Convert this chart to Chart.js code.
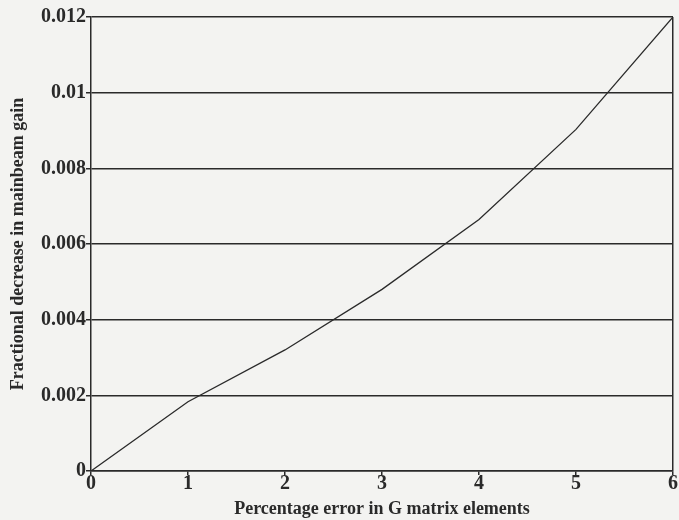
<!DOCTYPE html>
<html lang="en">
<head>
    <meta charset="UTF-8">
    <title>Gain decrease vs G matrix error</title>
    <script src="https://cdn.jsdelivr.net/npm/chart.js@4.4.0/dist/chart.umd.min.js"></script>
    <style>
        body { margin: 0; background: #f3f3f1; }
        #wrap { width: 679px; height: 520px; }
    </style>
</head>
<body>
    <div id="wrap"><canvas id="gainChart" width="679" height="520"></canvas></div>

    <script>
        // values
        const errorPct = [0, 1, 2, 3, 4, 5, 6];
        const gainDecrease = [0, 0.00183, 0.0032, 0.0048, 0.00665, 0.00903, 0.012];
        const yTicks = [0, 0.002, 0.004, 0.006, 0.008, 0.01, 0.012];

        const serif = "'Liberation Serif', 'Times New Roman', serif";
        const ink = '#2a2a2a';

        const ctx = document.getElementById('gainChart').getContext('2d');
        new Chart(ctx, {
            type: 'line',
            data: {
                datasets: [{
                    data: errorPct.map((x, i) => ({ x: x, y: gainDecrease[i] })),
                    borderColor: ink,
                    borderWidth: 1.3,
                    pointRadius: 0,
                    tension: 0,
                    fill: false
                }]
            },
            options: {
                responsive: false,
                animation: false,
                layout: { padding: { top: 17, right: 6, left: 0, bottom: 0 } },
                plugins: {
                    legend: { display: false },
                    tooltip: { enabled: false }
                },
                scales: {
                    x: {
                        type: 'linear',
                        min: 0,
                        max: 6,
                        afterFit: s => { s.height = 49; },
                        afterBuildTicks: s => { s.ticks = errorPct.map(v => ({ value: v })); },
                        border: { display: true, color: ink, width: 1.5 },
                        grid: {
                            color: c => c.tick && c.tick.value === 6 ? ink : 'rgba(0,0,0,0)',
                            tickColor: ink,
                            lineWidth: 1.5,
                            tickLength: 4
                        },
                        ticks: {
                            color: ink,
                            font: { family: serif, size: 20, weight: 'bold' },
                            padding: -3
                        },
                        title: {
                            display: true,
                            text: 'Percentage error in G matrix elements',
                            color: ink,
                            font: { family: serif, size: 18, weight: 'bold' },
                            padding: { top: 0, bottom: 0 }
                        }
                    },
                    y: {
                        min: 0,
                        max: 0.012,
                        afterFit: s => { s.width = 91; },
                        afterBuildTicks: s => { s.ticks = yTicks.map(v => ({ value: v })); },
                        border: { display: true, color: ink, width: 1.5 },
                        grid: {
                            color: ink,
                            lineWidth: 1.5,
                            tickLength: 5
                        },
                        ticks: {
                            color: ink,
                            font: { family: serif, size: 20, weight: 'bold' },
                            padding: 0,
                            callback: v => String(Number(v.toFixed(3)))
                        },
                        title: {
                            display: true,
                            text: 'Fractional decrease in mainbeam gain',
                            color: ink,
                            font: { family: serif, size: 18, weight: 'bold' },
                            padding: { top: 8, bottom: 0 }
                        }
                    }
                }
            }
        });
    </script>
</body>
</html>
